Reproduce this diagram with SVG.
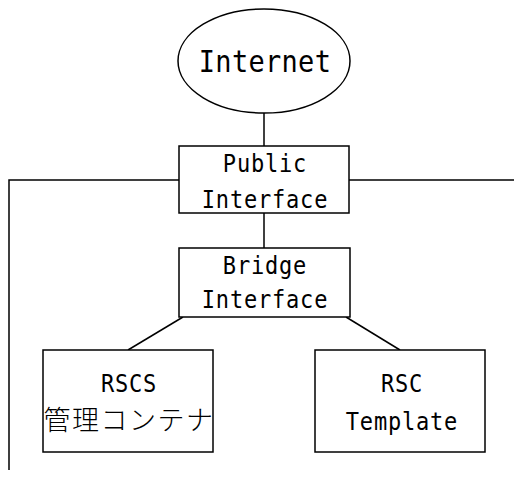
<svg xmlns="http://www.w3.org/2000/svg" width="514" height="484" viewBox="0 0 514 484">
<style>
.s{fill:#fff;stroke:#000;stroke-width:1.5}
.l{fill:none;stroke:#000;stroke-width:1.5}
text{font-family:"DejaVu Sans Mono","Noto Sans CJK JP",monospace;fill:#000;text-anchor:middle}
.t{font-size:22px;letter-spacing:0.8px}
.j{font-size:27px;letter-spacing:1.5px;font-family:"Noto Sans CJK JP",sans-serif;font-weight:300}
</style>
<rect width="514" height="484" fill="#fff"/>
<g id="connectors">
<line class="l" x1="264" y1="113" x2="264" y2="146"/>
<line class="l" x1="264" y1="213" x2="264" y2="248"/>
<polyline class="l" points="179,180 9,180 9,470"/>
<line class="l" x1="349" y1="180" x2="514" y2="180"/>
<line class="l" x1="183" y1="317" x2="128" y2="350"/>
<line class="l" x1="346" y1="317" x2="400" y2="350"/>
</g>
<g id="internet">
<ellipse class="s" cx="264" cy="61" rx="86" ry="52"/>
<text transform="translate(265,72) scale(1,1.12)" style="font-size:27px;letter-spacing:0.3px">Internet</text>
</g>
<g id="public">
<rect class="s" x="179" y="146" width="170" height="67"/>
<text class="t" transform="translate(265,172) scale(1,1.13)">Public</text>
<text class="t" transform="translate(265,208) scale(1,1.13)">Interface</text>
</g>
<g id="bridge">
<rect class="s" x="179" y="248" width="171" height="69"/>
<text class="t" transform="translate(265,274) scale(1,1.13)">Bridge</text>
<text class="t" transform="translate(265,308) scale(1,1.13)">Interface</text>
</g>
<g id="rscs">
<rect class="s" x="43" y="350" width="170" height="102"/>
<text class="t" transform="translate(129,392) scale(1,1.13)">RSCS</text>
<text class="j" x="129" y="430">管理コンテナ</text>
</g>
<g id="rsc">
<rect class="s" x="315" y="350" width="170" height="102"/>
<text class="t" transform="translate(402,392) scale(1,1.13)">RSC</text>
<text class="t" transform="translate(402,430) scale(1,1.13)">Template</text>
</g>
</svg>
